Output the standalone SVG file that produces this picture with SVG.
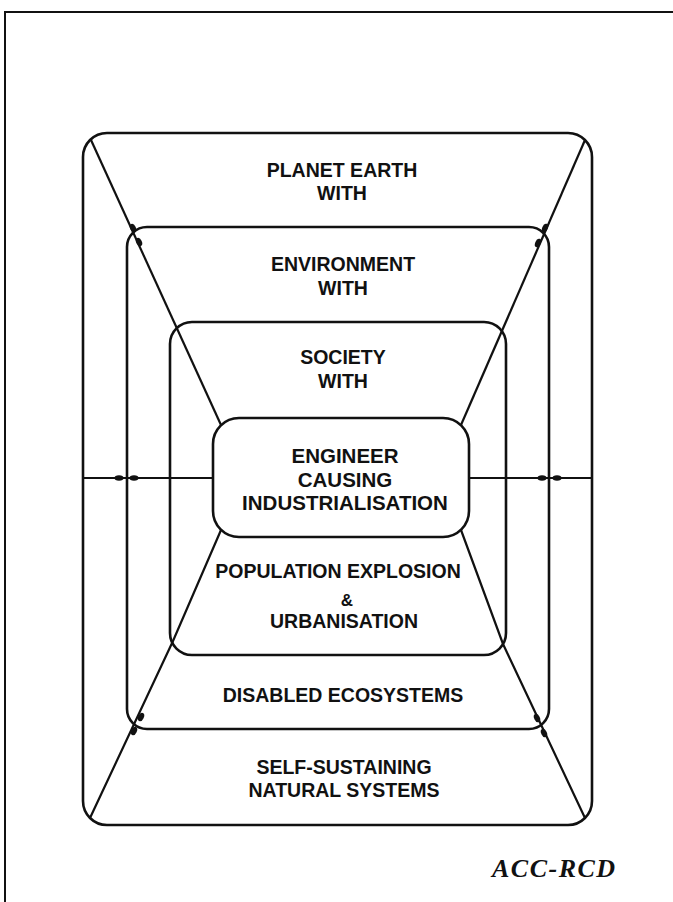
<svg xmlns="http://www.w3.org/2000/svg" width="673" height="902" viewBox="0 0 673 902">
<style>
.box{fill:none;stroke:#111;stroke-width:2.6}
.con{fill:none;stroke:#111;stroke-width:2.2}
.lbl{font-family:"Liberation Sans",Arial,sans-serif;font-weight:bold;font-size:19.5px;fill:#111;text-anchor:middle}
.big{font-size:20.5px}
.sig{font-family:"Liberation Serif","Times New Roman",serif;font-weight:bold;font-style:italic;font-size:26px;fill:#111;letter-spacing:1.5px}
</style>
<defs>
<ellipse id="tip" cx="0" cy="0" rx="4.5" ry="2.8" fill="#111"/>
</defs>
<rect width="673" height="902" fill="#fff"/>
<path d="M5,902 V12 H673" fill="none" stroke="#111" stroke-width="2"/>

<g id="connectors">
<line class="con" x1="91" y1="140" x2="221" y2="425"/>
<line class="con" x1="585" y1="140" x2="461" y2="425"/>
<polyline class="con" points="90,818 173,641 221,530"/>
<polyline class="con" points="585,818 503,644 461,530"/>
<line class="con" x1="83" y1="478" x2="213" y2="478"/>
<line class="con" x1="469" y1="478" x2="592" y2="478"/>
<use href="#tip" transform="translate(119,478)"/>
<use href="#tip" transform="translate(134,478)"/>
<use href="#tip" transform="translate(542,478)"/>
<use href="#tip" transform="translate(557,478)"/>
<use href="#tip" transform="translate(133,228) rotate(65)"/>
<use href="#tip" transform="translate(139,242) rotate(65)"/>
<use href="#tip" transform="translate(545,228) rotate(113)"/>
<use href="#tip" transform="translate(538,243) rotate(113)"/>
<use href="#tip" transform="translate(141,717) rotate(115)"/>
<use href="#tip" transform="translate(134,731) rotate(115)"/>
<use href="#tip" transform="translate(537,718) rotate(65)"/>
<use href="#tip" transform="translate(544,733) rotate(65)"/>
</g>

<g id="planet-earth">
<rect class="box" x="83" y="133" width="509" height="692" rx="24"/>
<text class="lbl" x="342" y="177">PLANET EARTH</text>
<text class="lbl" x="342" y="200">WITH</text>
<text class="lbl" x="344" y="774">SELF-SUSTAINING</text>
<text class="lbl" x="344" y="797">NATURAL SYSTEMS</text>
</g>

<g id="environment">
<rect class="box" x="127" y="227" width="422" height="502" rx="20"/>
<text class="lbl" x="343" y="271">ENVIRONMENT</text>
<text class="lbl" x="343" y="295">WITH</text>
<text class="lbl" x="343" y="702">DISABLED ECOSYSTEMS</text>
</g>

<g id="society">
<rect class="box" x="170" y="322" width="336" height="333" rx="22"/>
<text class="lbl" x="343" y="364">SOCIETY</text>
<text class="lbl" x="343" y="388">WITH</text>
<text class="lbl" x="338" y="578">POPULATION EXPLOSION</text>
<text class="lbl" x="347" y="606" style="font-size:17px">&amp;</text>
<text class="lbl" x="344" y="628">URBANISATION</text>
</g>

<g id="engineer">
<rect class="box" x="213" y="418" width="256" height="119" rx="26"/>
<text class="lbl big" x="345" y="463">ENGINEER</text>
<text class="lbl big" x="345" y="487">CAUSING</text>
<text class="lbl big" x="345" y="510">INDUSTRIALISATION</text>
</g>

<text class="sig" x="492" y="877">ACC-RCD</text>
</svg>
